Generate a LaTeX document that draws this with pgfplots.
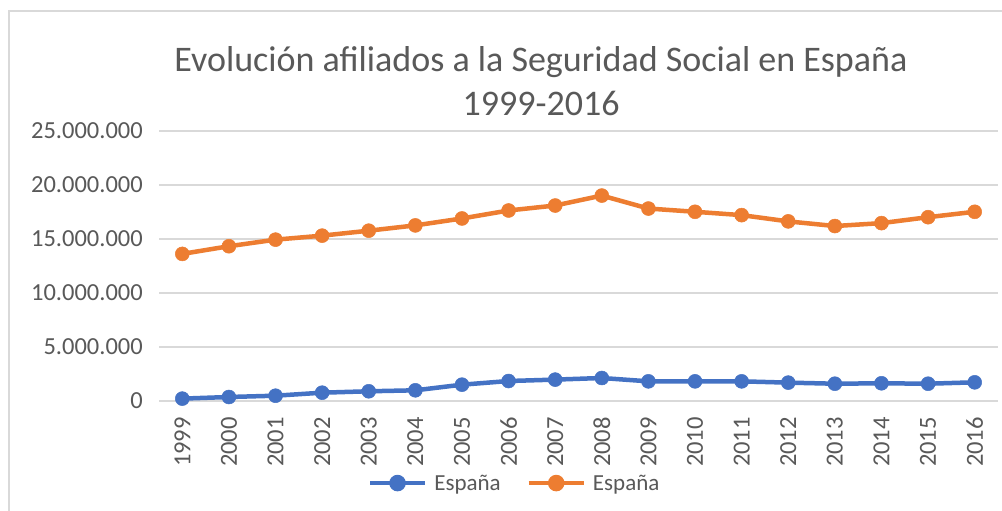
\documentclass[border=0pt]{standalone}
\usepackage{fontspec}
\setmainfont{Carlito}
\usepackage{pgfplots}
\pgfplotsset{compat=1.18}
\definecolor{cblue}{HTML}{4472C4}
\definecolor{corange}{HTML}{ED7D31}
\definecolor{ctext}{HTML}{595959}
\definecolor{cgrid}{HTML}{D9D9D9}
\begin{document}
\begin{tikzpicture}
\path[use as bounding box, fill=white] (0pt,0pt) rectangle (1002pt,511pt);
\draw[cgrid, line width=1.2pt] (9pt,0pt) -- (9pt,500pt) -- (1002pt,500pt);
\node[text=ctext, font=\fontsize{36}{44}\selectfont, align=center] at (541pt,430pt) {Evolución afiliados a la Seguridad Social en España\\1999-2016};
\begin{axis}[
  at={(159pt,110pt)}, anchor=south west,
  scale only axis, width=839pt, height=270pt,
  xmin=-0.5, xmax=17.5, ymin=0, ymax=25000000,
  axis line style={draw=none},
  xtick={0,...,17},
  xticklabels={1999,2000,2001,2002,2003,2004,2005,2006,2007,2008,2009,2010,2011,2012,2013,2014,2015,2016},
  ytick={0,5000000,10000000,15000000,20000000,25000000},
  yticklabels={0,5.000.000,10.000.000,15.000.000,20.000.000,25.000.000},
  scaled y ticks=false,
  major tick length=0pt,
  ymajorgrids, grid style={cgrid, line width=1.2pt},
  tick label style={text=ctext, font=\fontsize{24.5}{27}\selectfont},
  x tick label style={rotate=90, anchor=east, inner sep=0pt},
  xticklabel shift=16pt,
  y tick label style={anchor=east, inner sep=0pt},
  yticklabel shift=16pt,
  legend style={at={(0.424,-0.304)}, anchor=center, draw=none, fill=none, legend columns=2,
    font=\fontsize{23}{26}\selectfont, text=ctext, /tikz/every even column/.append style={column sep=24pt}},
  legend cell align=left,
  legend image code/.code={
    \draw[#1, mark=none, line width=4pt] (0pt,0pt) -- (55pt,0pt);
    \fill[#1] (27.5pt,0pt) circle (6pt);
    \path (60pt,0pt);
  },
]
\addplot[cblue, line width=4.5pt, mark=*, mark size=7pt, mark options={solid, line width=0.5pt}] coordinates {
(0,220000) (1,370000) (2,490000) (3,770000) (4,900000) (5,990000) (6,1510000) (7,1850000) (8,1980000)
(9,2130000) (10,1820000) (11,1820000) (12,1820000) (13,1700000) (14,1600000) (15,1640000) (16,1600000) (17,1730000)};
\addlegendentry{España}
\addplot[corange, line width=4.5pt, mark=*, mark size=7pt, mark options={solid, line width=0.5pt}] coordinates {
(0,13620000) (1,14330000) (2,14940000) (3,15310000) (4,15770000) (5,16260000) (6,16900000) (7,17640000) (8,18100000)
(9,19020000) (10,17820000) (11,17520000) (12,17210000) (13,16630000) (14,16200000) (15,16470000) (16,17020000) (17,17520000)};
\addlegendentry{España}
\end{axis}
\end{tikzpicture}
\end{document}
